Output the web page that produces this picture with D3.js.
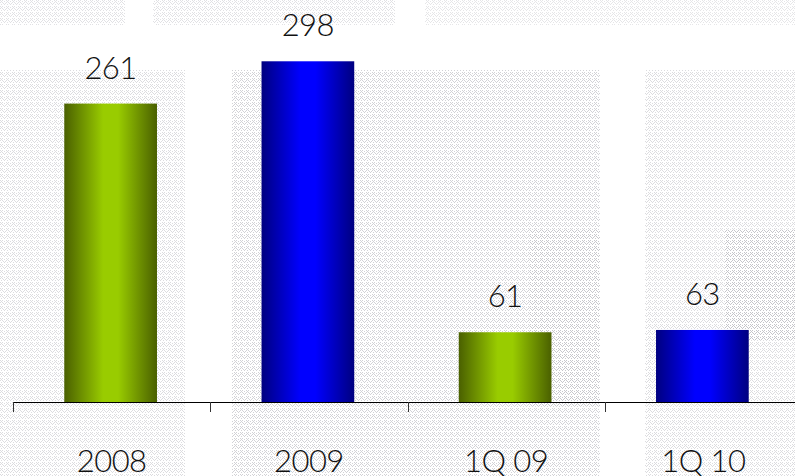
<!DOCTYPE html>
<html>
<head>
<meta charset="utf-8">
<script src="https://cdn.jsdelivr.net/npm/d3@7"></script>
<style>
  html, body { margin: 0; padding: 0; background: #ffffff; }
  svg { display: block; }
  text { font-family: Lato, "Open Sans", sans-serif; font-weight: 300; }
</style>
</head>
<body>
<svg id="chart" width="795" height="476"></svg>
<script>
// ---- data ----
const categories = ["2008", "2009", "1Q 09", "1Q 10"];
const values = [261, 298, 61, 63];
const seriesColor = ["green", "blue", "green", "blue"];

const W = 795, H = 476;
const svg = d3.select("#chart");
const defs = svg.append("defs");

// background: faded dotted photo texture
const pat = defs.append("pattern").attr("id", "dots")
  .attr("width", 6).attr("height", 6).attr("patternUnits", "userSpaceOnUse");
pat.append("rect").attr("width", 6).attr("height", 6).attr("fill", "#ffffff");
[[0,0],[2,0],[1,1],[0,2],[2,2],[4,1],[3,3],[5,3],[4,4],[1,4]].forEach(([px,py]) => {
  pat.append("rect").attr("x", px).attr("y", py).attr("width", 1).attr("height", 1).attr("fill", "#9a9aa4");
});
const panels = [
  [0, 70, 185, 406, 0.35], [232, 70, 368, 406, 0.45], [645, 70, 150, 406, 0.35],
  [0, 0, 125, 25, 0.3], [153, 0, 242, 25, 0.3], [425, 0, 370, 25, 0.25],
  [530, 230, 70, 176, 0.2], [725, 230, 70, 110, 0.35]
];
svg.append("g").selectAll("rect").data(panels).join("rect")
  .attr("x", d => d[0]).attr("y", d => d[1]).attr("width", d => d[2]).attr("height", d => d[3])
  .attr("fill", "url(#dots)").attr("opacity", d => d[4]);

// gradients
function grad(id, edge, mid) {
  const g = defs.append("linearGradient").attr("id", id).attr("x1", "0%").attr("x2", "100%");
  g.append("stop").attr("offset", "0%").attr("stop-color", edge);
  g.append("stop").attr("offset", "42%").attr("stop-color", mid);
  g.append("stop").attr("offset", "58%").attr("stop-color", mid);
  g.append("stop").attr("offset", "100%").attr("stop-color", edge);
}
grad("green", "#4a6000", "#99cc00");
grad("blue", "#000080", "#0000ff");

// scales
const x = d3.scaleBand().domain(categories).range([13, 802]).paddingInner(0.53).paddingOuter(0.265);
const y = d3.scaleLinear().domain([0, 300]).range([402, 59]);
const baseY = y(0);

// bars
svg.append("g").selectAll("rect").data(values).join("rect")
  .attr("x", (d, i) => x(categories[i]) - 1)
  .attr("y", d => y(d))
  .attr("width", x.bandwidth())
  .attr("height", d => baseY - y(d))
  .attr("fill", (d, i) => `url(#${seriesColor[i]})`);

// value labels
svg.append("g").selectAll("text").data(values).join("text")
  .attr("x", (d, i) => x(categories[i]) + x.bandwidth() / 2 - 1)
  .attr("y", d => y(d) - 25)
  .attr("text-anchor", "middle")
  .attr("font-size", 31)
  .attr("letter-spacing", "-0.5px")
  .attr("fill", "#111")
  .text(d => d);

// axis
const axis = d3.axisBottom(x).tickSize(0).tickPadding(48);
const ag = svg.append("g").attr("transform", `translate(0,${baseY})`).call(axis);
ag.select(".domain").remove();
ag.selectAll("text").attr("font-size", 31).attr("letter-spacing", "-0.5px").attr("fill", "#111")
  .attr("font-family", "Lato, 'Open Sans', sans-serif").attr("font-weight", 300);
ag.append("line").attr("x1", 13).attr("x2", W).attr("y1", 0.5).attr("y2", 0.5)
  .attr("stroke", "#000").attr("stroke-width", 1.2);
ag.selectAll("line.tick-b").data(categories).join("line").attr("class", "tick-b")
  .attr("x1", (c, i) => Math.round(x.range()[0] + i * x.step()) + 0.5)
  .attr("x2", (c, i) => Math.round(x.range()[0] + i * x.step()) + 0.5)
  .attr("y1", 0).attr("y2", 10).attr("stroke", "#333").attr("stroke-width", 1);
</script>
</body>
</html>
